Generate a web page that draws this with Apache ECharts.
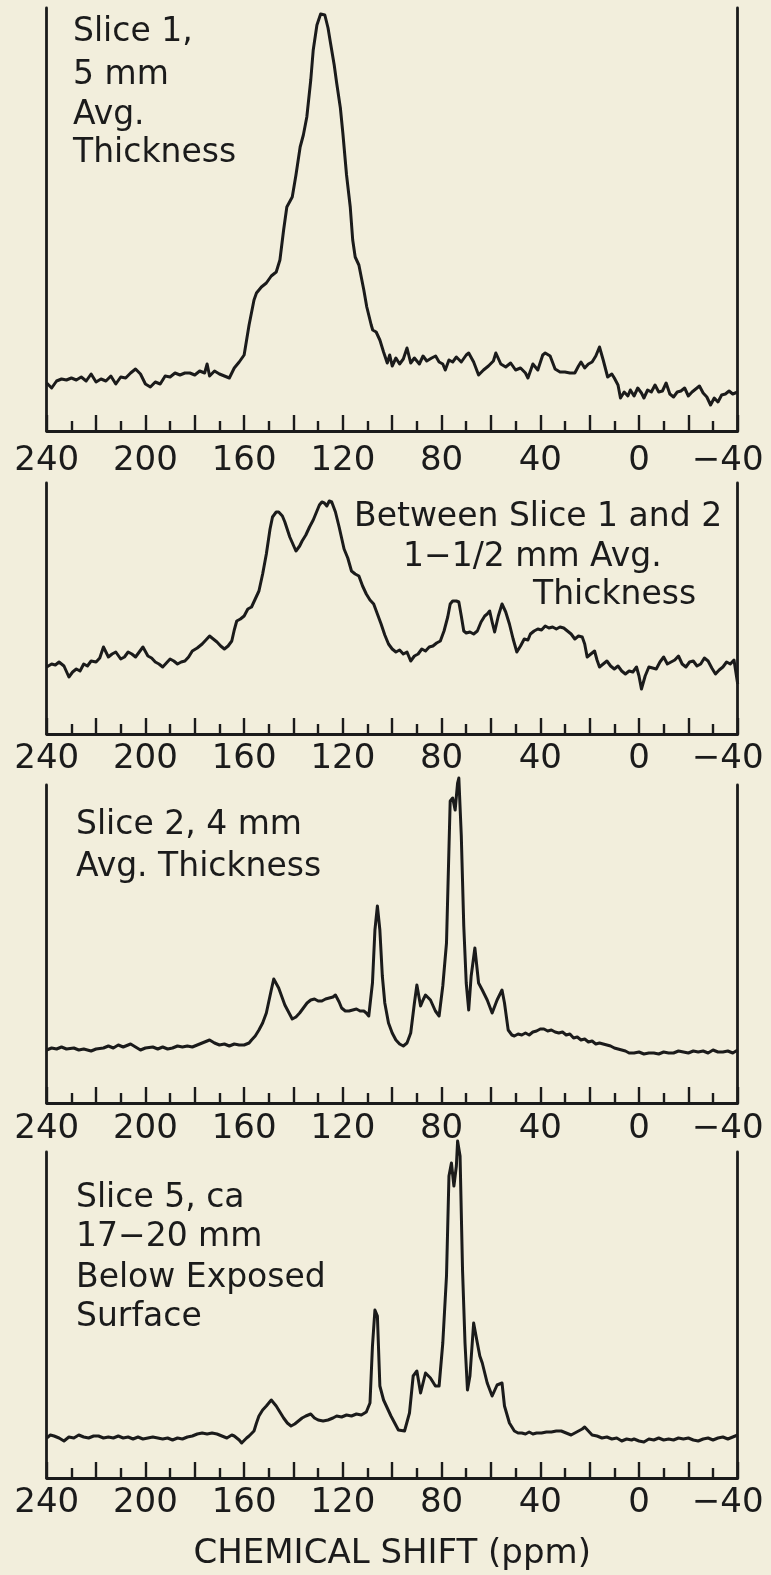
<!DOCTYPE html>
<html>
<head>
<meta charset="utf-8">
<script src="https://cdn.jsdelivr.net/npm/echarts@6/dist/echarts.min.js"></script>
<style>
  html, body { margin: 0; padding: 0; background: #f2eedc; }
  #chart { width: 771px; height: 1575px; }
</style>
</head>
<body>
<div id="chart"></div>
<script>
// ---------- DATA (chemical shift in ppm, relative intensity) ----------
const tickValues = [240, 200, 160, 120, 80, 40, 0, -40];
const tickLabels = ['240', '200', '160', '120', '80', '40', '0', '−40'];
const axisTitle = 'CHEMICAL SHIFT (ppm)';

const panelLabels = [
  ['Slice 1,', '5 mm', 'Avg.', 'Thickness'],
  ['Between Slice 1 and 2', '1−1/2 mm Avg.', 'Thickness'],
  ['Slice 2, 4 mm', 'Avg. Thickness'],
  ['Slice 5, ca', '17−20 mm', 'Below Exposed', 'Surface']
];

// panel full-scale intensity (axis max)
const panelScale = [423, 251, 318, 326];

const slice1 = [[240,48],[238,43],[236,50],[234,52],[232,51],[230,53],[228,51],[226,54],[224,50],[222,57],[220,49],[218,52],[216,50],[214,55],[212,47],[210,54],[208,53],[206,58],[204,62],[202,57],[200,47],[198,44],[196,49],[194,47],[192,55],[190,54],[188,58],[186,56],[184,58],[182,58],[180,56],[178,60],[176,58],[175,67],[174,55],[172,60],[170,57],[168,55],[166,53],[164,63],[162,69],[160,76],[158,106],[156,131],[155,138],[153,144],[151,148],[149,155],[147,159],[145.5,171],[144,201],[142.7,224],[140.5,234],[139,256],[137.3,284],[136,296],[134.6,314],[133,351],[132,381],[130.5,406],[129,417],[128.3,419],[127.3,416],[126,403],[125,388],[123.5,366],[122.5,348],[121,323],[120,298],[118.5,256],[117,224],[116,191],[115,174],[113.5,166],[113,164],[111.5,141],[110.3,124],[108.5,106],[107.9,101],[106.5,99],[105,91],[103.5,79],[102,68],[101,76],[100,65],[98.5,73],[97,67],[95.5,72],[94,83],[92.5,68],[91,73],[89,67],[87.5,75],[86,70],[84,73],[82.4,75],[81,69],[79.5,67],[78.5,61],[77,71],[75.5,69],[74,74],[72,69],[70,76],[69,78],[67,69],[65,56],[63,61],[61,65],[59,70],[58,78],[56,67],[54,64],[52,68],[50,61],[48,63],[46,58],[45,53],[43,67],[41,61],[39,76],[38,78],[36,75],[34,62],[32,59],[30,59],[28,58],[26,58],[24.5,65],[23.5,69],[22,63],[20.5,67],[19,69],[17.5,75],[16,84],[14.5,71],[12.7,54],[11,57],[10,53],[8.5,46],[7.5,33],[6,39],[4.5,35],[3.5,41],[2,35],[0.5,43],[-1,38],[-2,33],[-3.5,41],[-5,39],[-6.5,46],[-8,39],[-9.5,40],[-11,48],[-12.5,37],[-14,34],[-15.5,39],[-17,40],[-18.5,43],[-20,35],[-21.5,39],[-23,42],[-24.5,45],[-26,38],[-27.5,34],[-29,26],[-30.5,33],[-32,29],[-33.5,36],[-35,37],[-36.5,40],[-38,37],[-40,39]];

const between12 = [[240,67],[238,70],[236.5,69],[235,72],[233,68],[231,57],[229.5,62],[228,65],[226.5,63],[225,70],[223.5,68],[222,73],[220,72],[218.5,76],[217,87],[215,77],[213.5,80],[212,82],[210,75],[208.5,77],[207,82],[205.5,80],[204,77],[202.5,82],[201,87],[199,78],[197.5,76],[196,72],[194.5,70],[193,67],[191.5,71],[190,75],[188.5,73],[187,70],[185.5,72],[184,73],[182.5,77],[181,83],[179,86],[177,90],[175.5,94],[174,98],[172.5,95],[171,92],[169.5,88],[168,85],[166.5,88],[165,93],[164,104],[163,113],[161.5,115],[160,118],[158.5,125],[157,127],[155.5,135],[154,143],[152.5,160],[151,180],[149.5,205],[148.5,217],[147,222],[146,222],[144.5,218],[143.5,212],[141.5,197],[139,183],[137.5,188],[136.5,193],[135,199],[133.5,207],[132,214],[130.5,223],[129.5,229],[128.5,232],[127.5,231],[126.5,228],[125.5,233],[124.5,232],[123,222],[121.5,207],[120.5,196],[119.5,185],[118,176],[116.5,163],[115,160],[113.5,158],[112,148],[110.5,140],[109,134],[107.5,130],[106,120],[104.5,110],[103,99],[101.5,90],[100,85],[98.5,82],[97,84],[95.5,80],[94,82],[92.5,73],[91,78],[89.5,80],[88,85],[86.5,83],[85,87],[83.5,88],[82,91],[80.5,93],[79,103],[77.5,117],[76.5,130],[75.5,133],[74,133],[73,132],[72,118],[71,103],[70,101],[68.5,102],[67,100],[65.5,103],[64,112],[62.5,118],[61.5,120],[60.5,123],[59.5,112],[58.5,102],[57,118],[55.5,130],[54,122],[52.5,110],[51,95],[49.5,82],[48,88],[46.5,95],[45,94],[44,100],[42.5,103],[41,105],[39.5,104],[38,108],[36.5,106],[35,107],[33.5,105],[32,107],[30.5,106],[29,103],[27.5,100],[26,95],[24.5,98],[23,97],[22,90],[21,77],[19.5,80],[18,83],[17,74],[16,67],[14.5,70],[13,73],[11.5,68],[10,65],[8.5,68],[7,63],[5.5,60],[4,63],[2.5,62],[1,67],[0,58],[-1,45],[-2.5,58],[-4,67],[-5.5,66],[-7,65],[-8.5,72],[-10,77],[-11.5,70],[-13,72],[-14.5,74],[-16,78],[-17.5,70],[-19,67],[-20.5,72],[-22,73],[-23.5,68],[-25,70],[-26.5,76],[-28,73],[-29.5,66],[-31,60],[-32.5,64],[-34,67],[-35.5,72],[-37,70],[-38.5,74],[-40,50]];

const slice2 = [[240,53],[238,55],[236,54],[234,56],[232,54],[229,55],[227,53],[225,54],[222,52],[220,54],[217,55],[215,57],[213,55],[211,58],[209,56],[206,59],[204,56],[202,53],[200,55],[197,56],[195,54],[193,56],[191,54],[189,55],[187,57],[185,56],[183,57],[181,56],[179,58],[177,60],[175,62],[174,63],[172,60],[170,58],[168,59],[166,57],[164,59],[162,58],[160,58],[158,60],[157,63],[155.5,67],[154,73],[152.5,80],[151,90],[149,113],[148,124],[146,115],[143.5,98],[140.5,84],[139,86],[137.5,90],[136,95],[134.5,100],[133,103],[131.5,104],[130,102],[128.5,102],[127,104],[125.5,105],[124,106],[123,108],[121.5,101],[120.5,95],[119,92],[117.5,92],[116,93],[114.5,94],[113,92],[111.5,92],[110.5,90],[109.5,87],[108,120],[107,173],[106,197],[105,173],[104,127],[103,100],[101.5,80],[100,70],[98.5,63],[97,59],[95.5,57],[94,60],[92.5,70],[91,100],[90,118],[88.5,97],[87.5,103],[86.5,108],[84.5,103],[82.5,92],[81,87],[79.5,117],[78,160],[76.5,302],[75.5,305],[74.5,293],[73.5,320],[73,325],[72,267],[71,177],[70,120],[69,93],[68,127],[66.5,155],[65,120],[63.5,113],[61.5,103],[59.5,90],[57.5,103],[55.5,113],[54.5,100],[53,73],[51.5,68],[50.5,67],[49,69],[47.5,68],[46,70],[44.5,68],[43,71],[41.5,72],[40,74],[38.5,74],[37,72],[35.5,73],[34,71],[32.5,70],[31,71],[29.5,68],[28,69],[26.5,65],[25,66],[23.5,63],[22,64],[20.5,61],[19,62],[17.5,59],[16,60],[14.5,59],[13,58],[11.5,57],[10,55],[8.5,54],[7,53],[5.5,52],[4,50],[2,50],[0,51],[-2,49],[-4,50],[-6,50],[-8,49],[-10,51],[-12,50],[-14,50],[-16,52],[-18,51],[-20,50],[-22,52],[-24,51],[-26,52],[-28,50],[-30,53],[-32,51],[-34,51],[-36,52],[-38,50],[-40,53]];

const slice5 = [[240,40],[238.5,43],[237,42],[235,40],[233,37],[231,41],[229,40],[227,43],[225,41],[223,40],[221,42],[219,42],[217,40],[215,41],[213,40],[211,42],[209,40],[207,41],[205,39],[203,41],[201,39],[199,40],[197,41],[195,40],[193,39],[191,40],[189,38],[187,40],[185,39],[183,41],[181,42],[179,44],[177,45],[175,44],[173,45],[171,44],[169,42],[167,40],[165,43],[164,42],[162,38],[161,35],[159,40],[158,42],[156,47],[155,55],[154,62],[152.5,68],[151,72],[149,78],[147,72],[145.5,66],[144,60],[142.5,55],[141,52],[139.5,54],[138,57],[136.5,60],[135,62],[133,64],[131.5,60],[130,58],[128,57],[126,58],[124,60],[122.5,62],[120.5,61],[118.5,63],[116.5,62],[114.5,64],[112.5,63],[110.5,66],[109,75],[108,132],[107,168],[106,162],[105,92],[103.5,78],[102,70],[100.5,62],[99,55],[97.5,48],[95,47],[93,65],[91.5,102],[90,107],[88.5,85],[86.5,105],[84.5,100],[82.5,92],[81,92],[79.5,135],[78,202],[77,302],[76,315],[75,292],[74,312],[73.5,337],[72.5,322],[71.5,208],[70.5,135],[69.5,88],[68.5,102],[67,155],[65.5,135],[64.5,122],[63.5,115],[61.5,95],[59.5,82],[57.5,93],[55.5,95],[54.5,72],[52.5,55],[50.5,47],[49,45],[47.5,45],[46,44],[44.5,46],[43,44],[41.5,45],[39.5,45],[37.5,46],[35.5,46],[33.5,47],[31.5,47],[29.5,45],[27.5,43],[26,45],[24.5,47],[23,49],[22,51],[20.5,47],[19,43],[17,42],[15,40],[13,41],[11,39],[9,40],[7,37],[5,39],[3,38],[2,39],[0,37],[-2,36],[-4,39],[-6,38],[-8,40],[-10,38],[-12,39],[-14,38],[-16,40],[-18,39],[-20,40],[-22,38],[-24,37],[-26,39],[-28,40],[-30,38],[-32,40],[-34,41],[-36,39],[-38,41],[-40,43]];

const spectra = [slice1, between12, slice2, slice5];

// ---------- LAYOUT / STYLE ----------
const INK = '#1b1b1b';
const FONT = 'DejaVu Sans';
const gridBoxes = [
  { top: 8, height: 423 },
  { top: 483, height: 251 },
  { top: 785, height: 318 },
  { top: 1152, height: 326 }
];
const labelMargins = [13, 8, 9, 8];
const textPos = [
  [[73, 12], [73, 55], [73, 95], [73, 133]],
  [[354, 497], [403, 537], [533, 575]],
  [[76, 805], [76, 847]],
  [[76, 1178], [76, 1217], [76, 1258], [76, 1297]]
];

function tickFormatter(v) {
  const i = tickValues.indexOf(v);
  if (i < 0) return '';
  return v < 0 ? '{neg|' + tickLabels[i] + '}' : tickLabels[i];
}

const grids = [], xAxes = [], yAxes = [], series = [], titles = [];
gridBoxes.forEach((g, k) => {
  grids.push({ left: 46.7, width: 691, top: g.top, height: g.height, outerBoundsMode: 'none', containLabel: false });
  xAxes.push({
    type: 'value', gridIndex: k, min: -40, max: 240, interval: 20, inverse: true,
    axisLine: { show: true, onZero: false, lineStyle: { color: INK, width: 2.8 } },
    axisTick: { show: true, inside: true, length: 16, lineStyle: { color: INK, width: 2.4 } },
    minorTick: { show: true, splitNumber: 2, length: 10, lineStyle: { color: INK, width: 2.4 } },
    splitLine: { show: false }, minorSplitLine: { show: false },
    axisLabel: {
      show: true, showMinLabel: true, showMaxLabel: true, hideOverlap: false,
      margin: labelMargins[k], formatter: tickFormatter,
      fontFamily: FONT, fontSize: 34, color: INK,
      rich: { neg: { fontFamily: FONT, fontSize: 34, color: INK, padding: [0, 20, 0, 0] } }
    },
    name: k === 3 ? axisTitle : '',
    nameLocation: 'middle', nameGap: 59,
    nameTextStyle: { fontFamily: FONT, fontSize: 34, color: INK }
  });
  ['left', 'right'].forEach(pos => {
    yAxes.push({
      type: 'value', gridIndex: k, position: pos, min: 0, max: panelScale[k],
      axisLine: { show: true, onZero: false, lineStyle: { color: INK, width: 2.8 } },
      axisTick: { show: false }, axisLabel: { show: false }, splitLine: { show: false }
    });
  });
  series.push({
    type: 'line', xAxisIndex: k, yAxisIndex: 2 * k, data: spectra[k],
    showSymbol: false, symbol: 'none', clip: false, smooth: false,
    lineStyle: { color: INK, width: 3, join: 'round' }, animation: false
  });
  panelLabels[k].forEach((t, j) => {
    titles.push({
      text: t, left: textPos[k][j][0], top: textPos[k][j][1], padding: 0,
      textStyle: { fontFamily: FONT, fontSize: 33, fontWeight: 'normal', color: INK, lineHeight: 40 }
    });
  });
});

const chart = echarts.init(document.getElementById('chart'), null, { renderer: 'canvas' });
chart.setOption({
  backgroundColor: '#f2eedc',
  animation: false,
  title: titles,
  grid: grids,
  xAxis: xAxes,
  yAxis: yAxes,
  series: series
});
</script>
</body>
</html>
